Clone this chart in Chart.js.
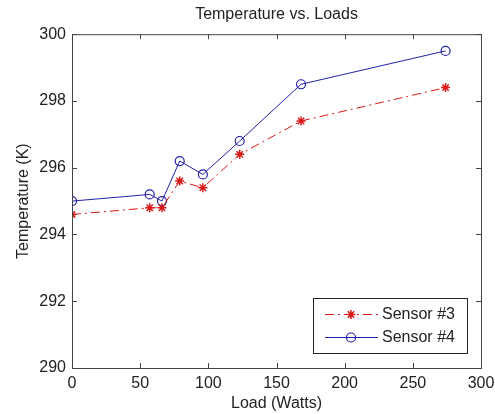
<!DOCTYPE html>
<html>
<head>
<meta charset="utf-8">
<title>Temperature vs. Loads</title>
<script src="https://cdn.jsdelivr.net/npm/chart.js@4.4.1/dist/chart.umd.min.js"></script>
<style>
    html, body { margin: 0; padding: 0; background: #fff; }
    #wrap { width: 495px; height: 414px; }
</style>
</head>
<body>
<div id="wrap"><canvas id="tempChart" width="495" height="414"></canvas></div>
<script>
const loads = [0, 57, 66, 79, 96, 123, 168, 274]
const sensor3 = [294.6, 294.8, 294.8, 295.6, 295.4, 296.4, 297.4, 298.4]
const sensor4 = [295.0, 295.2, 295.0, 296.2, 295.8, 296.8, 298.5, 299.5]
const seriesNames = ['Sensor #3', 'Sensor #4']

const FONT = '"Liberation Sans", Arial, Helvetica, sans-serif'
const TEXT = '#222'
const AXIS = '#444'

// MATLAB style box round the plot with ticks pointing inwards
const boxPlugin = {
    id: 'matlabBox',
    afterDraw(chart) {
        const { ctx, chartArea: a, scales } = chart
        const len = 5
        ctx.save()
        ctx.strokeStyle = AXIS
        ctx.lineWidth = 1
        ctx.strokeRect(a.left + 0.5, a.top + 0.5, a.right - a.left, a.bottom - a.top)
        ctx.beginPath()
        scales.x.ticks.forEach(t => {
            const px = Math.round(scales.x.getPixelForValue(t.value)) + 0.5
            ctx.moveTo(px, a.bottom); ctx.lineTo(px, a.bottom - len)
            ctx.moveTo(px, a.top); ctx.lineTo(px, a.top + len)
        })
        scales.y.ticks.forEach(t => {
            const py = Math.round(scales.y.getPixelForValue(t.value)) + 0.5
            ctx.moveTo(a.left, py); ctx.lineTo(a.left + len, py)
            ctx.moveTo(a.right, py); ctx.lineTo(a.right - len, py)
        })
        ctx.stroke()
        ctx.restore()
    }
}

// legend box inside the lower right corner
const legendPlugin = {
    id: 'insideLegend',
    afterDraw(chart) {
        const { ctx, chartArea: a } = chart
        const w = 154, h = 55
        const x0 = a.right - 14 - w, y0 = a.bottom - 15 - h
        ctx.save()
        ctx.fillStyle = '#fff'
        ctx.fillRect(x0, y0, w, h)
        ctx.strokeStyle = '#222'
        ctx.lineWidth = 1
        ctx.strokeRect(x0 + 0.5, y0 + 0.5, w, h)
        chart.data.datasets.forEach((ds, i) => {
            const cy = y0 + 16 + i * 23
            ctx.strokeStyle = ds.borderColor
            ctx.lineWidth = ds.borderWidth
            ctx.setLineDash(ds.borderDash || [])
            ctx.beginPath()
            ctx.moveTo(x0 + 12, cy + 0.5)
            ctx.lineTo(x0 + 65, cy + 0.5)
            ctx.stroke()
            ctx.setLineDash([])
            ctx.fillStyle = ds.backgroundColor
            ctx.lineWidth = ds.pointBorderWidth || 1
            Chart.helpers.drawPoint(ctx, {
                pointStyle: ds.pointStyle,
                radius: ds.pointRadius,
                borderWidth: ds.pointBorderWidth || 1
            }, x0 + 38, cy + 0.5)
            ctx.fillStyle = TEXT
            ctx.font = '16px ' + FONT
            ctx.textBaseline = 'middle'
            ctx.fillText(ds.label, x0 + 69, cy + 1)
        })
        ctx.restore()
    }
}

new Chart(document.getElementById('tempChart').getContext('2d'), {
    type: 'line',
    data: {
        datasets: [
            {
                label: seriesNames[0],
                data: loads.map((x, i) => ({ x, y: sensor3[i] })),
                borderColor: '#d81818',
                backgroundColor: '#d81818',
                borderWidth: 1,
                borderDash: [9, 4, 2, 4],
                pointStyle: 'star',
                pointRadius: 4.5,
                pointBorderWidth: 1.5,
                fill: false,
                tension: 0,
            },
            {
                label: seriesNames[1],
                data: loads.map((x, i) => ({ x, y: sensor4[i] })),
                borderColor: '#2222a8',
                backgroundColor: 'rgba(0,0,0,0)',
                borderWidth: 1,
                pointStyle: 'circle',
                pointRadius: 4.5,
                pointBorderWidth: 1.2,
                fill: false,
                tension: 0,
            },
        ],
    },
    options: {
        responsive: false,
        animation: false,
        layout: { padding: { left: 0, right: 14, top: 0, bottom: 0 } },
        plugins: {
            legend: { display: false },
            tooltip: { enabled: false },
            title: {
                display: true,
                fullSize: false,
                text: 'Temperature vs. Loads',
                color: TEXT,
                font: { family: FONT, size: 16, weight: 'normal' },
                padding: { top: 5, bottom: 10 },
            },
        },
        scales: {
            x: {
                type: 'linear',
                min: 0,
                max: 300,
                grid: { display: false, drawTicks: false },
                border: { display: false },
                ticks: { stepSize: 50, color: TEXT, padding: 6, font: { family: FONT, size: 16 } },
                title: {
                    display: true,
                    text: 'Load (Watts)',
                    color: TEXT,
                    font: { family: FONT, size: 16 },
                    padding: { top: 0, bottom: 1 },
                },
                afterFit(scale) {
                    scale.height = 46
                    scale.paddingLeft = 0
                    scale.paddingRight = 0
                },
            },
            y: {
                min: 290,
                max: 300,
                grid: { display: false, drawTicks: false },
                border: { display: false },
                ticks: { stepSize: 2, color: TEXT, padding: 6, font: { family: FONT, size: 16 } },
                title: {
                    display: true,
                    text: 'Temperature (K)',
                    color: TEXT,
                    font: { family: FONT, size: 16 },
                    padding: { top: 14, bottom: 0 },
                },
                afterFit(scale) {
                    scale.width = 72
                    scale.paddingTop = 0
                    scale.paddingBottom = 0
                },
            },
        },
    },
    plugins: [boxPlugin, legendPlugin],
})
</script>
</body>
</html>
